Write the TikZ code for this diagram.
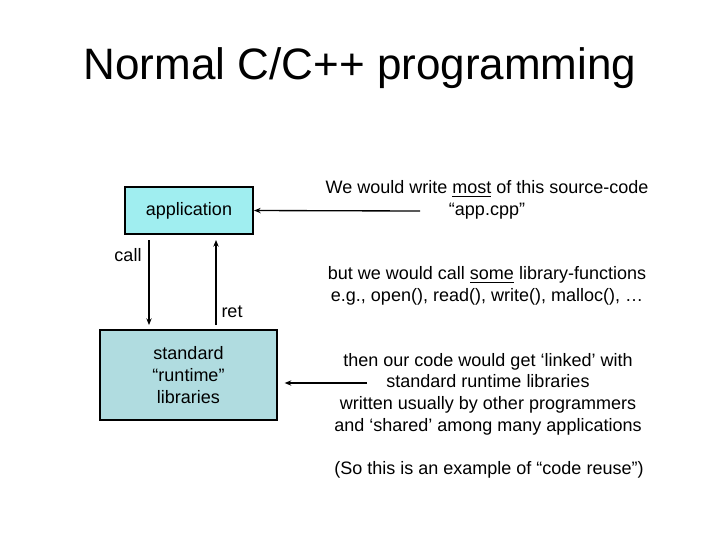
\documentclass[tikz,border=0pt]{standalone}
\usepackage{fontspec}
\usetikzlibrary{arrows.meta}
\setmainfont{Liberation Sans}
\begin{document}
\begin{tikzpicture}[x=0.75pt,y=-0.75pt,
  txt/.style={font=\fontsize{13.5}{16.2}\selectfont,align=center,inner sep=0},
  arr/.style={draw=black,line width=1pt,-{Stealth[length=5pt,width=4pt]}},
  box/.style={draw=black,line width=1.5pt,inner sep=0,font=\fontsize{13.5}{16.2}\selectfont,align=center}]
\useasboundingbox (0,0) rectangle (720,540);
\node[font=\fontsize{33}{38}\selectfont] (title) at (360,68) {Normal C/C++ programming};
\node[box,fill={rgb,255:red,160;green,238;blue,240},minimum width=128pt*0.75,minimum height=47pt*0.75] (app) at (189,210.5) {application};
\node[box,fill={rgb,255:red,176;green,220;blue,224},minimum width=177pt*0.75,minimum height=90pt*0.75] (std) at (188.5,375) {standard\\“runtime”\\libraries};
\coordinate (c1) at (149,240); \coordinate (c2) at (149,325);
\coordinate (r1) at (216,325); \coordinate (r2) at (216,240);
\draw[arr] (c1) -- (c2);
\draw[arr] (r1) -- (r2);
\node[txt] (call) at (128,255) {call};
\node[txt] (ret) at (232,312) {ret};
\node[txt] (t1) at (487,200) {We would write \underline{most} of this source-code\\“app.cpp”};
\node[txt] (t2) at (487,286) {but we would call \underline{some} library-functions\\e.g., open(), read(), write(), malloc(), …};
\node[txt] (t3) at (488,394) {then our code would get ‘linked’ with\\standard runtime libraries\\written usually by other programmers\\and ‘shared’ among many applications};
\node[txt] (t4) at (489,470) {(So this is an example of “code reuse”)};
\coordinate (a1) at (420,211); \coordinate (a2) at (367,383);
\draw[arr] (a1) -- (app.east);
\draw[arr] (a2) -- ([xshift=5pt]std.east|-a2);
\end{tikzpicture}
\end{document}
